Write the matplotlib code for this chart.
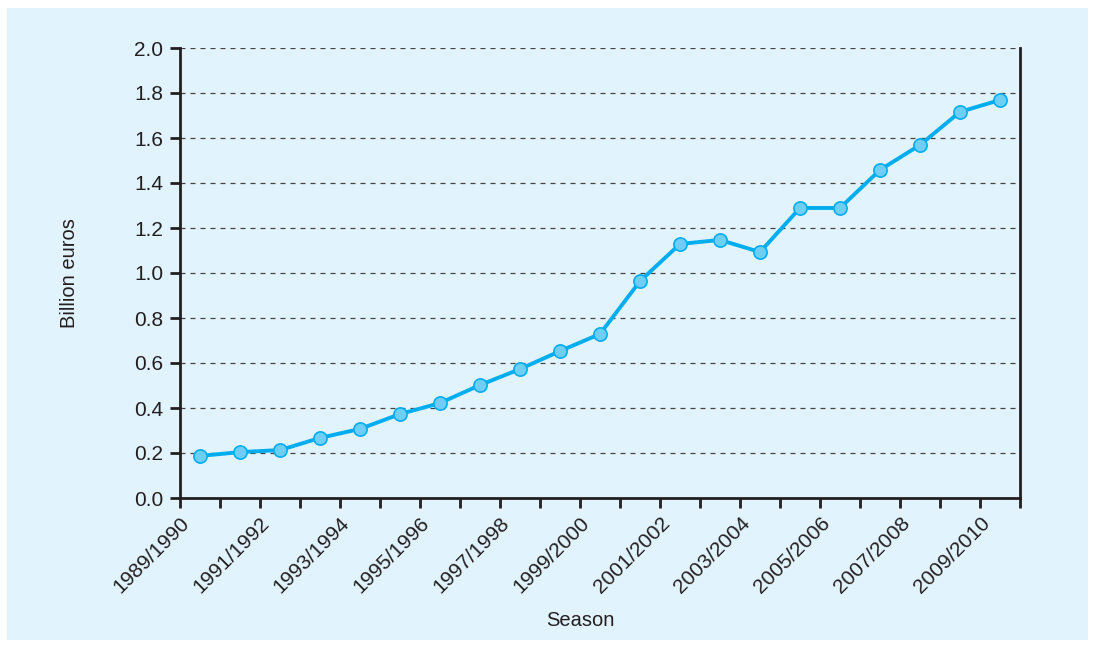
import matplotlib.pyplot as plt
from matplotlib.patches import Rectangle
import numpy as np

plt.rcParams['font.family'] = ['Liberation Sans', 'DejaVu Sans']

# revenue per season, billion euros
seasons = ["%d/%d" % (y, y + 1) for y in range(1989, 2010)]
revenue = [0.187, 0.204, 0.213, 0.267, 0.307, 0.373, 0.422, 0.502, 0.573,
           0.653, 0.729, 0.964, 1.129, 1.147, 1.093, 1.289, 1.289, 1.458,
           1.569, 1.716, 1.769]
y_ticks = [0.0, 0.2, 0.4, 0.6, 0.8, 1.0, 1.2, 1.4, 1.6, 1.8, 2.0]

bg = '#e1f3fd'
line_col = '#00adee'
fill_col = '#6dcff6'
ink = '#231f20'

fig = plt.figure(figsize=(10.96, 6.48), dpi=100)
fig.patch.set_facecolor('white')
fig.add_artist(Rectangle((7 / 1096, 8 / 648), 1081 / 1096, 632 / 648,
                         transform=fig.transFigure, facecolor=bg,
                         edgecolor='none', zorder=-10))

ax = fig.add_axes([180 / 1096, 1 - 498 / 648, 840 / 1096, 450 / 648])
ax.set_zorder(1)
ax.set_facecolor(bg)

x = np.arange(len(seasons))
ax.plot(x, revenue, color=line_col, lw=2.8, marker='o', ms=9.5,
        mfc=fill_col, mec=line_col, mew=1.2, zorder=3, clip_on=False)

ax.set_xlim(-0.5, len(seasons) - 0.5)
ax.set_ylim(0, 2.0)

# ticks sit on season boundaries, every other one labelled
edges = np.arange(len(seasons) + 1) - 0.5
ax.set_xticks(edges)
ax.set_xticklabels([seasons[i] if i % 2 == 0 and i < len(seasons) else ''
                    for i in range(len(edges))],
                   rotation=45, ha='right', rotation_mode='anchor')
ax.set_yticks(y_ticks)
ax.set_yticklabels(["%.1f" % v for v in y_ticks])

ax.tick_params(axis='both', direction='out', length=7, width=2, color=ink,
               labelsize=15, labelcolor=ink, pad=5)
ax.tick_params(axis='x', pad=4)

for s in ['left', 'bottom', 'right']:
    ax.spines[s].set_color(ink)
    ax.spines[s].set_linewidth(2)
ax.spines['top'].set_visible(False)

ax.yaxis.grid(True, linestyle=(0, (4, 4)), color='#444444', lw=0.9)
ax.set_axisbelow(True)

ax.set_ylabel('Billion euros', fontsize=14.5, color=ink)
ax.set_xlabel('Season', fontsize=14.5, color=ink)
ax.yaxis.set_label_coords(-101 / 840, 0.5)
ax.xaxis.set_label_coords((580 - 180) / 840, -(611 - 498) / 450)

fig.savefig('out.png', dpi=100, facecolor='white')
